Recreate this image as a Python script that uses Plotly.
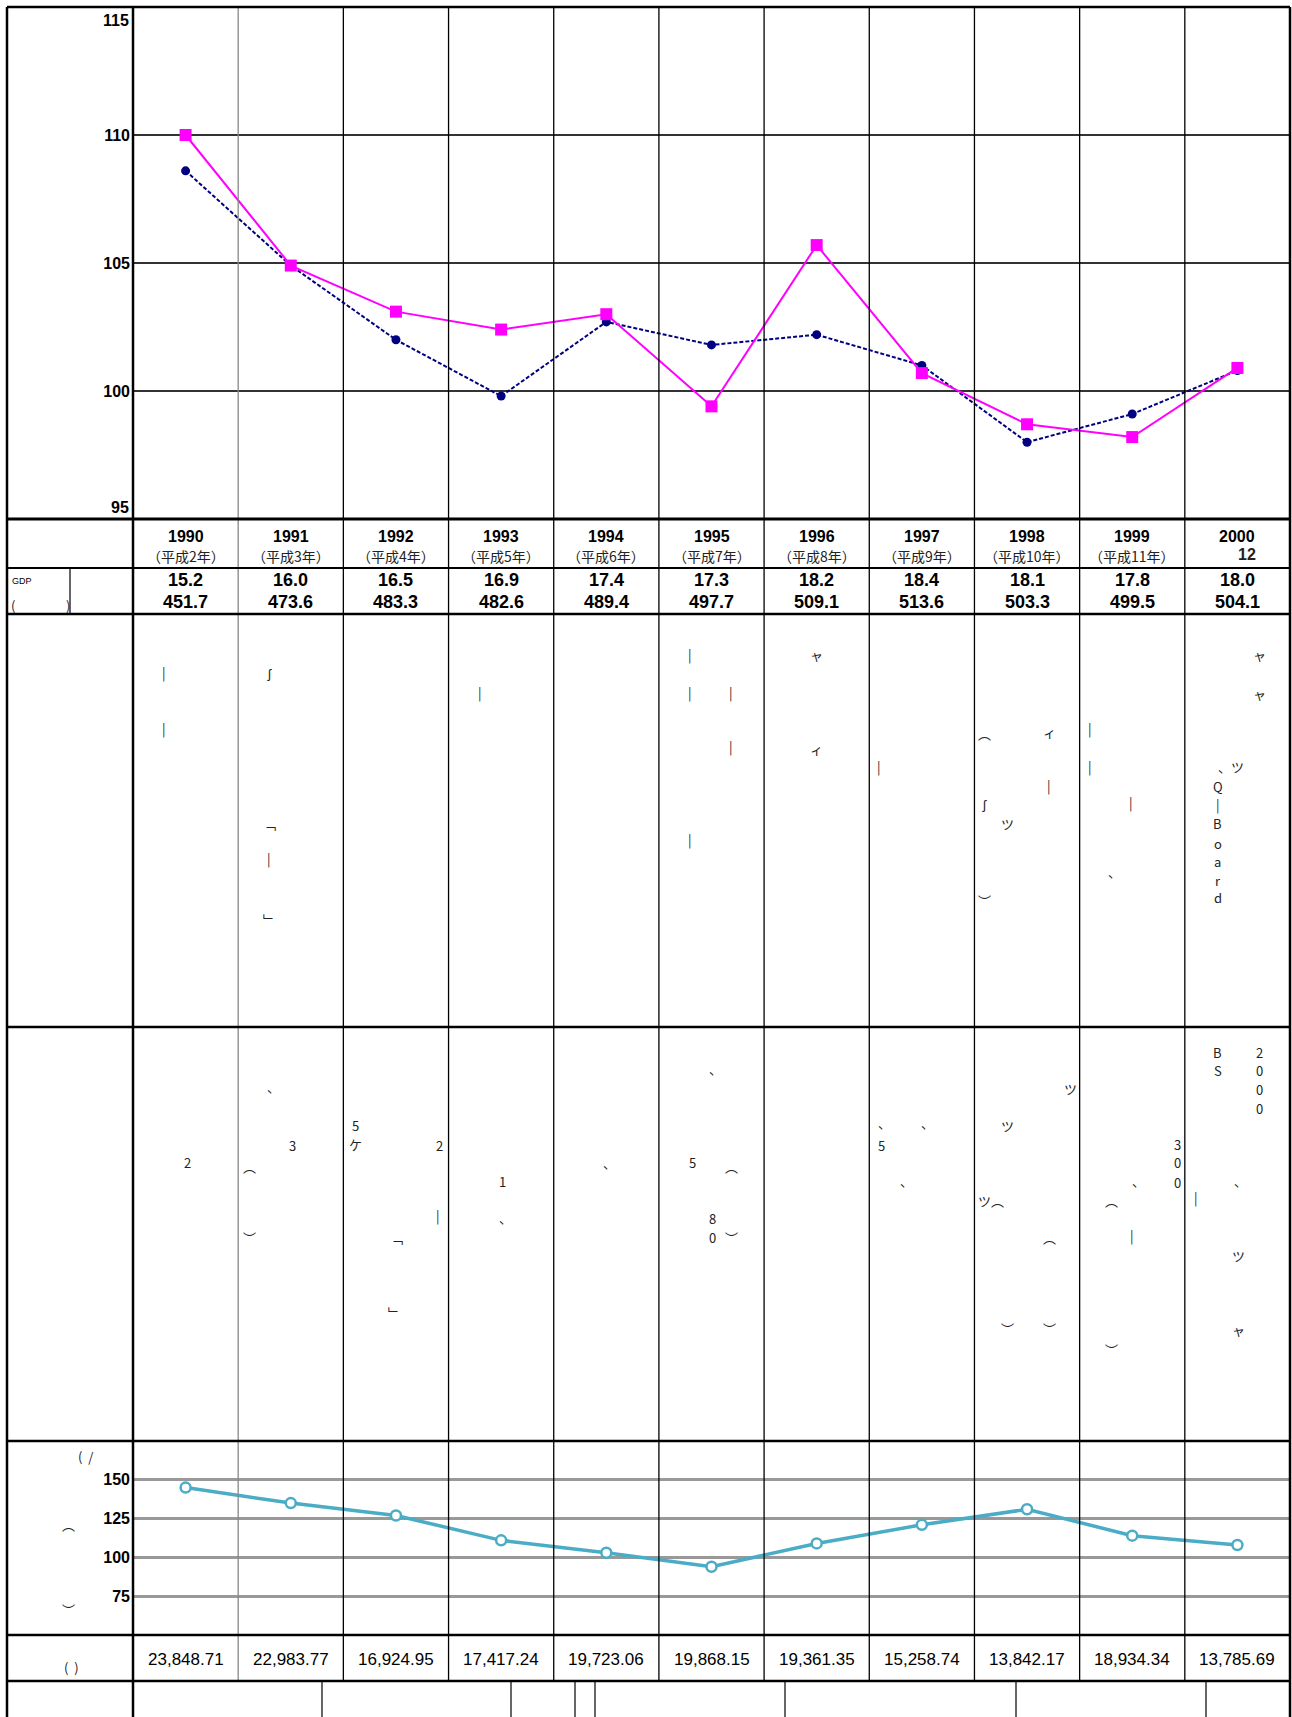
import plotly.graph_objects as go

W, H = 1292, 1717

# ---------------- data ----------------
years = [1990, 1991, 1992, 1993, 1994, 1995, 1996, 1997, 1998, 1999, 2000]
era_labels = ["（平成2年）", "（平成3年）", "（平成4年）", "（平成5年）", "（平成6年）",
              "（平成7年）", "（平成8年）", "（平成9年）", "（平成10年）", "（平成11年）", "12"]
index_magenta = [110.0, 104.9, 103.1, 102.4, 103.0, 99.4, 105.7, 100.7, 98.7, 98.2, 100.9]
index_navy = [108.6, 104.9, 102.0, 99.8, 102.7, 101.8, 102.2, 101.0, 98.0, 99.1, 100.8]
gdp_row1 = [15.2, 16.0, 16.5, 16.9, 17.4, 17.3, 18.2, 18.4, 18.1, 17.8, 18.0]
gdp_row2 = [451.7, 473.6, 483.3, 482.6, 489.4, 497.7, 509.1, 513.6, 503.3, 499.5, 504.1]
lower_index = [145, 135, 127, 111, 103, 94, 109, 121, 131, 114, 108]
bottom_values = [23848.71, 22983.77, 16924.95, 17417.24, 19723.06, 19868.15,
                 19361.35, 15258.74, 13842.17, 18934.34, 13785.69]
top_ticks = [95, 100, 105, 110, 115]
low_ticks = [75, 100, 125, 150]

# broken-font remnant glyphs (text, x, y) in reference-display units
S = 1.095
glyphs = [
    ("|", 150, 614), ("|", 150, 665),
    ("ʃ", 246, 614), ("﹁", 246, 752), ("|", 246, 784), ("﹂", 246, 840),
    ("|", 438, 632),
    ("|", 630, 598), ("|", 630, 632), ("|", 668, 632), ("|", 668, 682), ("|", 630, 767),
    ("ャ", 746, 598), ("ィ", 746, 684),
    ("|", 803, 700),
    ("︵", 899, 670), ("ィ", 958, 668), ("|", 958, 717), ("ʃ", 899, 734), ("ツ", 920, 752), ("︶", 899, 822),
    ("|", 995, 665), ("|", 995, 700), ("|", 1033, 733), ("、", 1018, 796),
    ("ャ", 1150, 598), ("ャ", 1150, 633), ("、ツ", 1124, 700),
    ("Q", 1112, 718), ("|", 1112, 735), ("B", 1112, 752), ("o", 1112, 770),
    ("a", 1112, 787), ("r", 1112, 804), ("d", 1112, 820),
    ("2", 171, 1062),
    ("、", 250, 992), ("3", 267, 1046), ("︵", 228, 1065), ("︶", 228, 1130),
    ("5", 325, 1028), ("ケ", 325, 1045), ("2", 401, 1046), ("|", 400, 1110), ("﹁", 362, 1130), ("﹂", 360, 1199),
    ("1", 459, 1079), ("、", 462, 1112),
    ("、", 557, 1062),
    ("、", 653, 976), ("5", 632, 1062), ("︵", 668, 1065), ("8", 651, 1113), ("0", 651, 1130), ("︶", 668, 1130),
    ("、", 808, 1025), ("、", 847, 1025), ("5", 805, 1046), ("、", 828, 1078),
    ("ツ", 978, 994), ("ツ", 920, 1028), ("ツ︵", 905, 1096), ("︵", 958, 1130), ("︶", 920, 1213), ("︶", 958, 1213),
    ("3", 1075, 1045), ("0", 1075, 1062), ("0", 1075, 1080), ("、", 1040, 1078), ("︵", 1015, 1096),
    ("|", 1034, 1128), ("︶", 1015, 1232), ("|", 1092, 1094),
    ("B", 1112, 961), ("S", 1112, 978), ("2", 1150, 961), ("0", 1150, 978), ("0", 1150, 995), ("0", 1150, 1012),
    ("、", 1133, 1078), ("ツ", 1131, 1147), ("ャ", 1131, 1214),
    ("(", 12, 553), (")", 62, 553),
    ("(  /", 78, 1330), ("︵", 63, 1392), ("︶", 63, 1470), ("(  )", 65, 1523),
]

# ---------------- layout geometry (pixels) ----------------
L_OUT, T_OUT, R_OUT = 7, 7, 1290
L_COL = 133
Y_HEAD, Y_GDP, Y_TXT1, Y_TXT2, Y_LOW, Y_NUM, Y_STRIP = 519, 568, 614, 1027, 1441, 1635, 1681


def px(x):
    return x / W


def py(y):
    return 1 - y / H


NUMFONT = "Liberation Sans, Arial, sans-serif"
JPFONT = "Noto Sans CJK JP, sans-serif"

fig = go.Figure()

fig.add_trace(go.Scatter(
    x=years, y=index_navy, mode="lines+markers", xaxis="x", yaxis="y",
    line=dict(color="#000080", width=2, dash="4px,2px"),
    marker=dict(symbol="circle", size=9, color="#000080"), showlegend=False))
fig.add_trace(go.Scatter(
    x=years, y=index_magenta, mode="lines+markers", xaxis="x", yaxis="y",
    line=dict(color="#FF00FF", width=2),
    marker=dict(symbol="square", size=12, color="#FF00FF"), showlegend=False))
fig.add_trace(go.Scatter(
    x=years, y=lower_index, mode="lines+markers", xaxis="x2", yaxis="y2",
    line=dict(color="#4BACC6", width=3.5),
    marker=dict(symbol="circle", size=10, color="white", line=dict(color="#4BACC6", width=2.5)),
    showlegend=False))

xdom = [px(L_COL), px(R_OUT)]
xr = [years[0] - 0.5, years[-1] + 0.5]

shapes = []


def hline(y, x0, x1, w=2.5, c="black"):
    shapes.append(dict(type="line", xref="paper", yref="paper", x0=px(x0), x1=px(x1),
                       y0=py(y), y1=py(y), line=dict(color=c, width=w)))


def vline(x, y0, y1, w=1.3, c="black"):
    shapes.append(dict(type="line", xref="paper", yref="paper", x0=px(x), x1=px(x),
                       y0=py(y0), y1=py(y1), line=dict(color=c, width=w)))


# column separators through the library x scale
for i, yr in enumerate(years[:-1]):
    col = "#888888" if i == 0 else "black"
    shapes.append(dict(type="line", xref="x", yref="paper", x0=yr + 0.5, x1=yr + 0.5,
                       y0=py(Y_STRIP), y1=py(T_OUT), line=dict(color=col, width=1.3)))

# outer frame and row separators
hline(T_OUT, L_OUT, R_OUT, 2.5)
hline(Y_HEAD, L_OUT, R_OUT, 3)
hline(Y_GDP, L_OUT, R_OUT, 1.8)
hline(Y_TXT1, L_OUT, R_OUT, 2.5)
hline(Y_TXT2, L_OUT, R_OUT, 2.5)
hline(Y_LOW, L_OUT, R_OUT, 2.5)
hline(Y_NUM, L_OUT, R_OUT, 2.5)
hline(Y_STRIP, L_OUT, R_OUT, 2.5)
vline(L_OUT, T_OUT, H, 2.5)
vline(L_COL, T_OUT, H, 2.5)
vline(R_OUT, T_OUT, H, 2.5)
vline(70, Y_GDP, Y_TXT1, 1.2)
for xs in [322, 511, 575, 595, 785, 1016, 1206]:
    vline(xs, Y_STRIP, H, 1.2)

annotations = []
for yr, lab in zip(years, era_labels):
    annotations.append(dict(x=yr, xref="x", y=py(546), yref="paper", text=str(yr), showarrow=False,
                            font=dict(family=NUMFONT, size=16, color="black", weight="bold"),
                            yanchor="bottom", borderpad=0))
    is_era = lab != "12"
    annotations.append(dict(x=yr, xref="x", y=py(545), yref="paper", text=lab, showarrow=False,
                            xshift=0 if is_era else 10, borderpad=0,
                            font=dict(family=JPFONT if is_era else NUMFONT, size=14 if is_era else 16,
                                      color="#222", weight="normal" if is_era else "bold"),
                            yanchor="top"))
for yr, a, b in zip(years, gdp_row1, gdp_row2):
    annotations.append(dict(x=yr, xref="x", y=py(580), yref="paper", text=f"{a:.1f}", showarrow=False,
                            font=dict(family=NUMFONT, size=18, color="black", weight="bold"), yanchor="middle"))
    annotations.append(dict(x=yr, xref="x", y=py(602), yref="paper", text=f"{b:.1f}", showarrow=False,
                            font=dict(family=NUMFONT, size=18, color="black", weight="bold"), yanchor="middle"))
for yr, v in zip(years, bottom_values):
    annotations.append(dict(x=yr, xref="x", y=py(1659), yref="paper", text=f"{v:,.2f}", showarrow=False,
                            font=dict(family=NUMFONT, size=17, color="black"), yanchor="middle"))

annotations.append(dict(x=px(10), y=py(581), xref="paper", yref="paper", text="GDP", showarrow=False,
                        xanchor="left", font=dict(family=NUMFONT, size=9, color="black")))
for t, xd, yd in glyphs:
    annotations.append(dict(x=px(xd * S), y=py(yd * S), xref="paper", yref="paper", text=t, showarrow=False,
                            font=dict(family=JPFONT, size=13, color="#222"), xanchor="center", yanchor="middle"))

# top axis end labels (placed inside the frame like the reference)
annotations.append(dict(x=px(131), xref="paper", y=top_ticks[-1], yref="y", text=str(top_ticks[-1]),
                        showarrow=False, xanchor="right", yanchor="top", yshift=-3,
                        font=dict(family=NUMFONT, size=16, color="black", weight="bold")))
annotations.append(dict(x=px(131), xref="paper", y=top_ticks[0], yref="y", text=str(top_ticks[0]),
                        showarrow=False, xanchor="right", yanchor="bottom", yshift=1,
                        font=dict(family=NUMFONT, size=16, color="black", weight="bold")))

fig.update_layout(
    width=W, height=H, margin=dict(l=0, r=0, t=0, b=0),
    paper_bgcolor="white", plot_bgcolor="white", showlegend=False,
    xaxis=dict(domain=xdom, range=xr, showgrid=False, zeroline=False, showticklabels=False,
               showline=False, anchor="y"),
    yaxis=dict(domain=[py(Y_HEAD), py(T_OUT)], range=[top_ticks[0], top_ticks[-1]],
               tickvals=top_ticks[1:-1], showgrid=True, gridcolor="#333", gridwidth=1.5,
               zeroline=False, showline=False, ticks="", ticklabelstandoff=2,
               tickfont=dict(family=NUMFONT, size=16, color="black", weight="bold"), anchor="x"),
    xaxis2=dict(domain=xdom, range=xr, showgrid=False, zeroline=False, showticklabels=False,
                showline=False, anchor="y2"),
    yaxis2=dict(domain=[py(Y_NUM), py(Y_LOW)], range=[50, 175], tickvals=low_ticks,
                showgrid=True, gridcolor="#999", gridwidth=2.5, zeroline=False, showline=False,
                ticks="", ticklabelstandoff=2,
                tickfont=dict(family=NUMFONT, size=16, color="black", weight="bold"), anchor="x2"),
    shapes=shapes, annotations=annotations,
)

fig.write_html("out.html", config={"displayModeBar": False},
               post_script="document.body.style.margin='0';")
